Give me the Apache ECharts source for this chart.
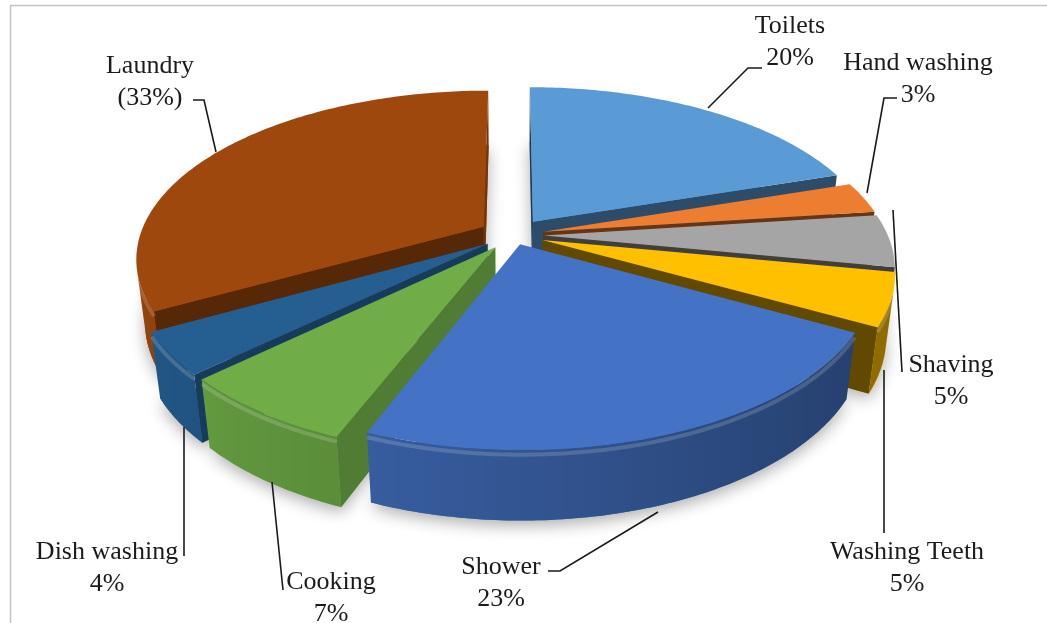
<!DOCTYPE html>
<html>
<head>
<meta charset="utf-8">
<title>Household water use</title>
<script src="https://cdn.jsdelivr.net/npm/echarts@6/dist/echarts.min.js"></script>
<style>
  html, body { margin: 0; padding: 0; background: #fff; }
  #chart { width: 1047px; height: 623px; }
</style>
</head>
<body>
<div id="chart"></div>
<script>
// Slices go clockwise from 12 o'clock, same order as the original chart.
const categories = ['Toilets', 'Hand washing', 'Shaving', 'Washing Teeth', 'Shower', 'Cooking', 'Dish washing', 'Laundry'];
const shares = [20, 3, 5, 5, 23, 7, 4, 33];
const labelFormats = ['{n}\n{p}%', '{n}\n{p}%', '{n}\n{p}%', '{n}\n{p}%', '{n}\n{p}%', '{n}\n{p}%', '{n}\n{p}%', '{n}\n({p}%)'];

const colors = ['#5B9BD5', '#ED7D31', '#A5A5A5', '#FFC000', '#4472C4', '#70AD47', '#255E91', '#9E480E'];
// how far each slice is pulled out, as a fraction of the radius
const explode = [0.1, 0.09, 0.09, 0.09, 0.06, 0.09, 0.09, 0.1];
// label block centres and leader lines, in pixels
const labelAt = [[790, 42], [918, 79], [951, 381], [907, 568], [501, 583], [331, 598], [107, 568], [150, 82]];
const leaders = [
  [[708, 108], [748, 68], [762, 68]],
  [[867, 193], [884, 98], [897, 98]],
  [[893, 210], [902, 372]],
  [[884, 370], [884, 533]],
  [[658, 512], [560, 571], [548, 571]],
  [[272, 482], [283, 590]],
  [[184, 427], [184, 556]],
  [[216, 152], [204, 100], [193, 100]]
];

const total = shares.reduce((s, v) => s + v, 0);
const startAngles = [];
shares.reduce((acc, v, i) => { startAngles[i] = acc / total * Math.PI * 2; return acc + v; }, 0);

// simple perspective camera looking down on a unit disc
const K = 336, PERSP = 0.18, SIN_T = 0.51, COS_T = 0.86, H = 0.21;
const CX = 513, CY = 297;
const DIST = COS_T / PERSP;
const CAM_Y = DIST * COS_T;
function proj(x, y, z) {
  const w = 1 + (y * COS_T - z * SIN_T) / DIST;
  return [CX + K * x / w, CY - K * (y * SIN_T + z * COS_T) / w];
}

function shade(hex, f) {
  const n = parseInt(hex.slice(1), 16);
  const ch = [(n >> 16) & 255, (n >> 8) & 255, n & 255].map(c => Math.max(0, Math.min(255, Math.round(c * f))));
  return 'rgb(' + ch.join(',') + ')';
}

function renderSlice(params, api) {
  const i = params.dataIndex;
  const base = colors[i];
  const a0 = startAngles[i];
  const a1 = a0 + api.value(0) / total * Math.PI * 2;
  const mid = (a0 + a1) / 2;
  const ox = explode[i] * Math.sin(mid), oy = explode[i] * Math.cos(mid);
  const rim = (t, z) => proj(ox + Math.sin(t), oy + Math.cos(t), z);
  const arc = (z, from, to) => {
    const n = Math.max(2, Math.ceil(Math.abs(to - from) / 0.015));
    const pts = [];
    for (let k = 0; k <= n; k++) pts.push(rim(from + (to - from) * k / n, z));
    return pts;
  };
  const children = [];

  // base of the slice, only there for its soft shadow
  children.push({
    type: 'polygon', z2: 1, silent: true,
    shape: { points: [proj(ox, oy, 0)].concat(arc(0, a0, a1)) },
    style: { fill: base, shadowBlur: 16, shadowColor: 'rgba(0,0,0,0.32)', shadowOffsetY: 5 }
  });

  // outer curved wall, the part turned to the camera
  const faces = t => -(ox * Math.sin(t) + oy * Math.cos(t)) - 1 - CAM_Y * Math.cos(t) > 0;
  let tA = null, tB = null;
  const nStep = Math.max(4, Math.ceil((a1 - a0) / 0.005));
  for (let k = 0; k <= nStep; k++) {
    const t = a0 + (a1 - a0) * k / nStep;
    if (faces(t)) { if (tA === null) tA = t; tB = t; }
  }
  if (tA !== null && tB - tA > 0.001) {
    const top = arc(H, tA, tB);
    const bottom = arc(0, tA, tB).reverse();
    const xs = top.map(p => p[0]);
    const xMin = Math.min.apply(null, xs), xMax = Math.max.apply(null, xs);
    const stops = [];
    for (let k = 0; k <= 8; k++) {
      const t = tA + (tB - tA) * k / 8;
      const x = rim(t, H)[0];
      stops.push({ offset: (x - xMin) / Math.max(1, xMax - xMin), color: shade(base, 0.74 - 0.2 * Math.sin(t)) });
    }
    stops.sort((p, q) => p.offset - q.offset);
    const meanY = oy + Math.cos((tA + tB) / 2);
    children.push({
      type: 'polygon', z2: 100 + Math.round((1.3 - meanY) * 50), silent: true,
      shape: { points: top.concat(bottom) },
      style: { fill: new echarts.graphic.LinearGradient(xMin, 0, xMax, 0, stops, true), stroke: null }
    });
    // soft light along the top rim
    children.push({
      type: 'polyline', z2: 101 + Math.round((1.3 - meanY) * 50), silent: true,
      shape: { points: arc(H - 0.014, tA, tB) },
      style: { stroke: 'rgba(255,255,255,0.16)', lineWidth: 4, fill: null }
    });
  }

  // the two flat cut walls
  [[a0, -Math.cos(a0), Math.sin(a0)], [a1, Math.cos(a1), -Math.sin(a1)]].forEach(([t, nx, ny]) => {
    if (nx * (-ox) + ny * (-CAM_Y - oy) <= 0) return;
    const meanY = oy + Math.cos(t) / 2;
    children.push({
      type: 'polygon', z2: 100 + Math.round((1.3 - meanY) * 50), silent: true,
      shape: { points: [proj(ox, oy, H), rim(t, H), rim(t, 0), proj(ox, oy, 0)] },
      style: { fill: shade(base, 0.38 + 0.36 * Math.max(0, nx)), stroke: null }
    });
  });

  // top face
  children.push({
    type: 'polygon', z2: 500, silent: true,
    shape: { points: [proj(ox, oy, H)].concat(arc(H, a0, a1)) },
    style: { fill: base, stroke: null }
  });

  // label with leader line
  const pct = Math.round(api.value(0) / total * 100);
  children.push({
    type: 'polyline', z2: 600, silent: true,
    shape: { points: leaders[i] },
    style: { stroke: '#1a1a1a', lineWidth: 1.6, fill: null }
  });
  children.push({
    type: 'text', z2: 600, silent: true,
    style: {
      text: labelFormats[i].replace('{n}', categories[i]).replace('{p}', pct),
      x: labelAt[i][0], y: labelAt[i][1],
      align: 'center', verticalAlign: 'middle',
      font: '26px "Liberation Serif", "Times New Roman", serif',
      lineHeight: 32, fill: '#1b1b1b'
    }
  });

  return { type: 'group', children: children };
}

const chart = echarts.init(document.getElementById('chart'), null, { renderer: 'canvas' });
chart.setOption({
  backgroundColor: '#ffffff',
  animation: false,
  graphic: [{
    type: 'polyline', silent: true,
    shape: { points: [[10.5, 700], [10.5, 5.5], [1100, 5.5]] },
    style: { stroke: '#c4c4c4', lineWidth: 1.5, fill: null }
  }],
  series: [{
    type: 'custom',
    coordinateSystem: 'none',
    renderItem: renderSlice,
    data: categories.map((name, i) => ({ name: name, value: shares[i] }))
  }]
});
</script>
</body>
</html>
